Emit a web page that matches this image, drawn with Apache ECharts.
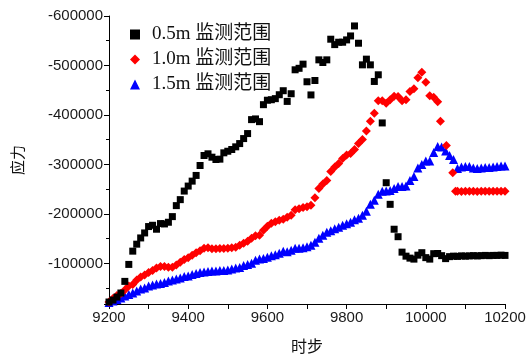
<!DOCTYPE html>
<html><head><meta charset="utf-8">
<script src="https://cdn.jsdelivr.net/npm/echarts@6/dist/echarts.min.js"></script>
<style>html,body{margin:0;padding:0;background:#fff}#c{width:531px;height:359px}</style>
</head><body><div id="c"></div>
<script>
const seriesNames = ['0.5m 监测范围', '1.0m 监测范围', '1.5m 监测范围'];
const xTitle = '时步';
const yTitle = '应力';

const steps = [9200,9210,9220,9230,9240,9250,9260,9270,9280,9290,
  9300,9310,9320,9330,9340,9350,9360,9370,9380,9390,
  9400,9410,9420,9430,9440,9450,9460,9470,9480,9490,
  9500,9510,9520,9530,9540,9550,9560,9570,9580,9590,
  9600,9610,9620,9630,9640,9650,9660,9670,9680,9690,
  9700,9710,9720,9730,9740,9750,9760,9770,9780,9790,
  9800,9810,9820,9830,9840,9850,9860,9870,9880,9890,
  9900,9910,9920,9930,9940,9950,9960,9970,9980,9990,
  10000,10010,10020,10030,10040,10050,10060,10070,10080,10090,
  10100,10110,10120,10130,10140,10150,10160,10170,10180,10190,10200];

const stress05 = [-22000,-26000,-32000,-40200,-63700,-98000,-124800,-138900,-151500,-161600,
  -174500,-177100,-169100,-180500,-179800,-183200,-194600,-216800,-228900,-246200,
  -256300,-266300,-277800,-297900,-318100,-321500,-314700,-310000,-310700,-323500,
  -326700,-330200,-335600,-342200,-352300,-362400,-390600,-392000,-386500,-420800,
  -429800,-430800,-433000,-440900,-449000,-427400,-442900,-491300,-494300,-502700,
  -467100,-440500,-469700,-511400,-506000,-511400,-553100,-542200,-547000,-547000,
  -551700,-559700,-579900,-545000,-501300,-512800,-501300,-467700,-481200,-383900,
  -263100,-219400,-169100,-154000,-122800,-114700,-110700,-108700,-116700,-121700,
  -111700,-108700,-119700,-120000,-115700,-109700,-113700,-114700,-114200,-115200,
  -114700,-115200,-115700,-115200,-115700,-116200,-115700,-116200,-116200,-116700,-116200];

const steps10 = steps.slice(0, 84).concat([10037, 10052, 10068, 10075]).concat(steps.slice(88));
const stress10 = [-22000,-29100,-35200,-39200,-46200,-54300,-57300,-66400,-72400,-76400,
  -81500,-85500,-90500,-94000,-93600,-92100,-92500,-96600,-102600,-107700,
  -111700,-116700,-121700,-125800,-130800,-131800,-129800,-129800,-130200,-130400,
  -130800,-131800,-132800,-136900,-140900,-144900,-150900,-156000,-157000,-167000,
  -175100,-181200,-184200,-187200,-189200,-193200,-197300,-208300,-210300,-212800,
  -214400,-217400,-232500,-251600,-260700,-267700,-285900,-294900,-302000,-312000,
  -319100,-322100,-330200,-342200,-350300,-367400,-387200,-403700,-428800,-428800,
  -423800,-430900,-437900,-437500,-428800,-430900,-447600,-453000,-475200,-486200,
  -466100,-438900,-435900,-426800,
  -387200,-338200,-283200,-246000,
  -245600,-245100,-245600,-246100,-245600,-245100,-245600,-246100,-245600,-245600,-246100,-245600,-245600];

const stress15 = [-21100,-24100,-27100,-30100,-34200,-37200,-40200,-44200,-48200,-50300,
  -54300,-56300,-58300,-59300,-61300,-64400,-66400,-68400,-70400,-73400,
  -74400,-77400,-79500,-81500,-82500,-83500,-84500,-84500,-85500,-85500,
  -86500,-88500,-90500,-91900,-95600,-97600,-100600,-106600,-108700,-109700,
  -112700,-115700,-117700,-120700,-124800,-123800,-126800,-130800,-130800,-131800,
  -133800,-136900,-142900,-150900,-157000,-163000,-166000,-170100,-173100,-177100,
  -180100,-183200,-188200,-191200,-197300,-205300,-219400,-227500,-239600,-245600,
  -246600,-247600,-251600,-255700,-255700,-256300,-267700,-275800,-292900,-300000,
  -307000,-307000,-324100,-336200,-335200,-327100,-318100,-310000,-291900,-294900,
  -295900,-295900,-292900,-291900,-292900,-293900,-293900,-294900,-295900,-296900,-296900];

function pairs(xs, ys) { return xs.map((x, i) => [x, ys[i]]); }

const chart = echarts.init(document.getElementById('c'), null, {renderer: 'canvas'});
const axisFont = {fontFamily: 'Liberation Sans, Arial, sans-serif', fontSize: 15, color: '#1a1a1a'};
chart.setOption({
  animation: false,
  backgroundColor: '#fff',
  grid: {left: 109, right: 26, top: 16, bottom: 54, containLabel: false},
  legend: {
    orient: 'vertical', left: 125, top: 20, itemWidth: 10, itemHeight: 10, itemGap: 6,
    data: [
      {name: seriesNames[0], icon: 'rect'},
      {name: seriesNames[1], icon: 'diamond'},
      {name: seriesNames[2], icon: 'triangle'}
    ],
    textStyle: {fontFamily: 'Liberation Serif, Times New Roman, Noto Sans CJK SC', fontSize: 19, color: '#111', lineHeight: 19, padding: [0, 0, 0, 7]}
  },
  xAxis: {
    type: 'value', min: 9200, max: 10200, interval: 200,
    name: xTitle, nameLocation: 'middle', nameGap: 34,
    nameTextStyle: {fontFamily: 'Noto Sans CJK SC', fontSize: 16, color: '#111'},
    axisLine: {show: true, onZero: false, lineStyle: {color: '#000', width: 1}},
    axisTick: {show: true, length: 5, lineStyle: {color: '#000'}},
    minorTick: {show: true, splitNumber: 2, length: 5, lineStyle: {color: '#000'}},
    splitLine: {show: false}, minorSplitLine: {show: false},
    axisLabel: Object.assign({margin: 6, formatter: v => String(v)}, axisFont)
  },
  yAxis: {
    type: 'value', inverse: true, min: -600000, max: -18000, interval: 100000,
    name: yTitle, nameLocation: 'middle', nameGap: 84,
    nameTextStyle: {fontFamily: 'Noto Sans CJK SC', fontSize: 15, color: '#111'},
    axisLine: {show: true, onZero: false, lineStyle: {color: '#000', width: 1}},
    axisTick: {show: true, length: 5, lineStyle: {color: '#000'}},
    minorTick: {show: true, splitNumber: 2, length: 3, lineStyle: {color: '#000'}},
    splitLine: {show: false}, minorSplitLine: {show: false},
    axisLabel: Object.assign({margin: 6, showMaxLabel: false, formatter: v => String(v)}, axisFont)
  },
  series: [
    {name: seriesNames[0], type: 'scatter', symbol: 'rect', symbolSize: 7, z: 4,
     itemStyle: {color: '#000000', opacity: 1}, data: pairs(steps, stress05)},
    {name: seriesNames[1], type: 'scatter', symbol: 'diamond', symbolSize: 9, z: 3,
     itemStyle: {color: '#ff0000', opacity: 1}, data: pairs(steps10, stress10)},
    {name: seriesNames[2], type: 'scatter', symbol: 'triangle', symbolSize: 9, z: 2,
     itemStyle: {color: '#0000ff', opacity: 1}, data: pairs(steps, stress15)}
  ]
});
</script></body></html>
